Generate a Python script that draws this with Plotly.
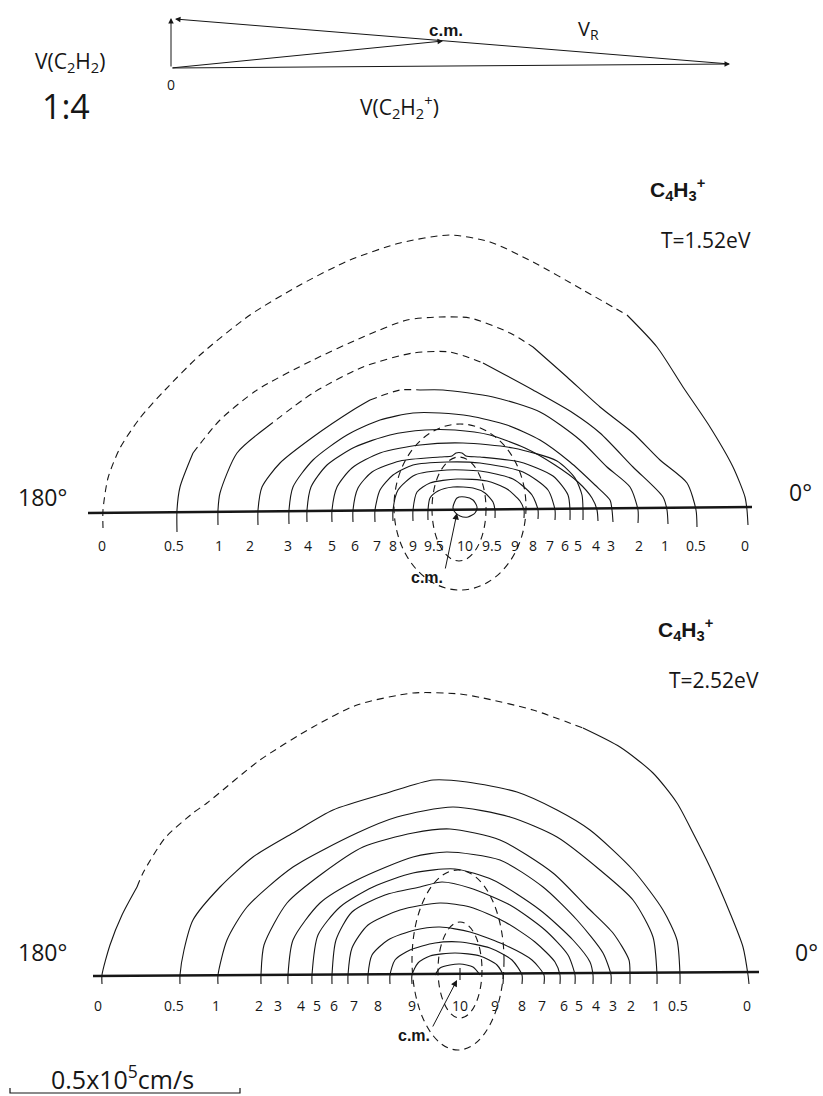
import plotly.graph_objects as go

# ------------------------------------------------------------------
# Newton diagram: lab-frame velocity vectors (page pixel plane)
# ------------------------------------------------------------------
newton_origin = [171, 68]
v_neutral_tip = [171, 18]      # V(C2H2)
v_ion_tip = [730, 64]          # V(C2H2+)
v_cm_tip = [443, 41]           # centre-of-mass velocity

# ------------------------------------------------------------------
# Contour maps in the velocity plane, relative to the c.m.
# (u along the relative velocity, v perpendicular; same scale as page)
# ------------------------------------------------------------------
top_levels = ["0", "0.5", "1", "2", "3", "4", "5", "6", "7", "8", "9", "9.5"]
top_contours = {
    "0": [(-357, -18), (-357, 0), (-352, 32), (-340, 62), (-320, 92), (-295, 120), (-260, 155),
          (-210, 195), (-160, 225), (-110, 250), (-60, 267), (-10, 275), (30, 268), (73, 248),
          (123, 220), (167, 195), (197, 163), (223, 123), (250, 83), (273, 43), (285, 13),
          (287, 0), (288, -15)],
    "0.5": [(-283, -22), (-283, 0), (-280, 23), (-267, 57), (-240, 90), (-203, 120), (-147, 150),
            (-97, 173), (-53, 190), (-20, 193), (10, 192), (50, 177), (73, 163), (107, 133),
            (140, 103), (173, 77), (200, 50), (227, 27), (236, 0), (237, -17)],
    "1": [(-242, -15), (-242, 0), (-240, 17), (-223, 57), (-193, 83), (-147, 117), (-97, 143),
          (-47, 157), (-10, 158), (23, 147), (73, 120), (113, 97), (140, 77), (173, 43),
          (203, 13), (207, 0), (208, -14)],
    "2": [(-202, -15), (-202, 0), (-198, 23), (-180, 47), (-147, 73), (-107, 100), (-90, 110),
          (-60, 120), (-40, 120), (-17, 120), (33, 113), (80, 98), (120, 70), (147, 43),
          (170, 23), (178, 0), (178, -13)],
    "3": [(-171, -14), (-171, 0), (-167, 23), (-147, 50), (-113, 75), (-80, 90), (-47, 97),
          (-20, 97), (10, 94), (47, 85), (80, 70), (110, 48), (135, 25), (150, 10), (152, 0),
          (153, -12)],
    "4": [(-153, -12), (-153, 0), (-149, 23), (-133, 45), (-105, 63), (-70, 75), (-35, 80),
          (-5, 80), (30, 75), (65, 62), (95, 45), (118, 28), (132, 12), (137, 0), (138, -11)],
    "5": [(-128, -12), (-128, 0), (-123, 23), (-108, 42), (-80, 57), (-40, 65), (3, 67),
          (53, 62), (97, 49), (115, 32), (122, 15), (123, 0), (123, -10)],
    "6": [(-107, -12), (-107, 0), (-102, 22), (-88, 38), (-60, 49), (-20, 53), (-8, 54),
          (-4, 57), (2, 57), (6, 54), (20, 53), (60, 48), (93, 34), (108, 15), (110, 0),
          (110, -10)],
    "7": [(-85, -12), (-85, 0), (-80, 20), (-67, 35), (-47, 45), (-13, 48), (20, 47), (63, 38),
          (88, 20), (95, 0), (95, -10)],
    "8": [(-67, -11), (-67, 0), (-62, 20), (-45, 35), (-13, 40), (20, 39), (53, 31), (72, 15),
          (78, 0), (78, -9)],
    "9": [(-47, -11), (-47, 0), (-43, 18), (-30, 27), (-3, 31), (27, 29), (47, 21), (60, 9),
          (64, 0), (64, -8)],
    "9.5": [(-32, -10), (-32, 0), (-30, 12), (-22, 19), (-7, 23), (13, 22), (25, 17), (33, 8),
            (35, 0), (35, -8)],
}
top_dashed = {"0": (0, 15), "0.5": (3, 12), "1": (4, 9), "2": (6, 8)}
top_peak_loop = [(-7, 3), (-3, 12), (5, 13), (13, 10), (17, 3), (15, -3), (8, -7), (0, -6),
                 (-6, -1), (-7, 3)]          # level 10, closed around the c.m.
top_ellipses = [(0, 3, 66, 83), (-1, 1, 27, 52)]   # centre u, centre v, semi-axes
top_tick_text = ["0", "0.5", "1", "2", "3", "4", "5", "6", "7", "8", "9", "9.5", "10",
                 "9.5", "9", "8", "7", "6", "5", "4", "3", "2", "1", "0.5", "0"]
top_tick_u = [-358, -286, -241, -210, -172, -152, -128, -105, -83, -67, -47, -26, 5,
              32, 55, 73, 90, 105, 118, 136, 151, 179, 205, 236, 285]
top_axis = [(-372, -3), (292, 3)]
top_cm_arrow = [(-15, -60), (-3, -3)]

bot_levels = ["0", "0.5", "1", "2", "3", "4", "5", "6", "7", "8", "9", "10"]
bot_contours = {
    "0": [(-356, -9), (-356, 0), (-348, 30), (-336, 60), (-321, 88), (-315, 102), (-293, 137),
          (-265, 162), (-251, 172), (-198, 215), (-145, 248), (-101, 270), (-45, 282), (2, 281),
          (25, 277), (75, 265), (125, 247), (162, 228), (195, 202), (219, 172), (235, 142),
          (252, 108), (272, 62), (285, 28), (290, 0), (291, -9)],
    "0.5": [(-278, -9), (-278, 0), (-274, 25), (-265, 55), (-238, 88), (-205, 118), (-165, 142),
            (-125, 165), (-71, 182), (-25, 195), (9, 193), (59, 183), (99, 165), (132, 145),
            (175, 105), (205, 65), (219, 35), (222, 0), (222, -9)],
    "1": [(-240, -9), (-240, 0), (-231, 35), (-211, 68), (-165, 108), (-101, 142), (-61, 158),
          (-5, 168), (52, 158), (99, 138), (142, 105), (175, 75), (195, 38), (199, 0), (199, -9)],
    "2": [(-197, -9), (-197, 0), (-194, 30), (-171, 72), (-135, 102), (-95, 128), (-45, 142),
          (-8, 146), (42, 135), (95, 102), (129, 68), (155, 42), (171, 15), (172, 0), (172, -9)],
    "3": [(-170, -9), (-170, 0), (-165, 35), (-138, 72), (-101, 95), (-45, 118), (-11, 123),
          (42, 115), (85, 88), (119, 55), (145, 22), (153, 0), (153, -9)],
    "4": [(-146, -9), (-146, 0), (-140, 40), (-118, 68), (-85, 88), (-45, 102), (-3, 106),
          (35, 95), (82, 65), (115, 35), (132, 13), (135, 0), (135, -9)],
    "5": [(-126, -9), (-126, 0), (-122, 35), (-106, 63), (-73, 80), (-38, 88), (-16, 93),
          (12, 87), (52, 70), (87, 45), (110, 20), (117, 0), (117, -9)],
    "6": [(-110, -9), (-110, 0), (-106, 27), (-90, 50), (-58, 65), (-18, 72), (12, 68),
          (47, 53), (77, 33), (97, 13), (102, 0), (102, -9)],
    "7": [(-90, -9), (-90, 0), (-86, 20), (-70, 35), (-43, 45), (-18, 48), (12, 43), (47, 30),
          (74, 15), (86, 0), (86, -9)],
    "8": [(-68, -9), (-68, 0), (-63, 15), (-48, 25), (-23, 32), (2, 33), (32, 27), (54, 15),
          (64, 0), (64, -9)],
    "9": [(-46, -9), (-46, 0), (-40, 12), (-28, 19), (-3, 22), (22, 19), (39, 10), (45, 0),
          (45, -9)],
    "10": [(-23, 0), (-18, 7), (-8, 10), (2, 11), (15, 8), (22, 0)],
}
bot_dashed = {"0": (4, 16)}
bot_ellipses = [(0, 15, 46, 90), (2, 5, 22, 48)]
bot_tick_text = ["0", "0.5", "1", "2", "3", "4", "5", "6", "7", "8", "9", "10",
                 "9", "8", "7", "6", "5", "4", "3", "2", "1", "0.5", "0"]
bot_tick_u = [-360, -284, -242, -199, -180, -157, -141, -124, -104, -80, -46, 2,
              37, 64, 84, 106, 121, 138, 155, 173, 198, 220, 289]
bot_axis = [(-365, -1), (301, 3)]
bot_cm_arrow = [(-26, -53), (-1, -5)]
bot_cm_tick = [(2, 7), (2, -5)]

# page placement of the two velocity planes (c.m. on the axis line)
TOP_ORIGIN = (460, 510)
BOT_ORIGIN = (458, 975)

INK = "#161616"
FONT = "'Open Sans', 'DejaVu Sans', sans-serif"
BOLD = "'Liberation Sans', Arial, sans-serif"
DASH = "7px,5px"

fig = go.Figure()


def to_page(origin, pts):
    return ([origin[0] + u for u, v in pts], [origin[1] - v for u, v in pts])


def add_path(pts, origin, dash=None, width=1.1, shape="spline"):
    xs, ys = to_page(origin, pts)
    fig.add_trace(go.Scatter(
        x=xs, y=ys, mode="lines", hoverinfo="skip", showlegend=False,
        line=dict(color=INK, width=width, dash=dash, shape=shape, smoothing=0.7)))


def add_contour(pts, origin, dashed_span=None):
    if dashed_span is None:
        add_path(pts, origin)
        return
    a, b = dashed_span
    if a > 0:
        add_path(pts[:a + 1], origin)
    add_path(pts[a:b + 1], origin, dash=DASH)
    if b < len(pts) - 1:
        add_path(pts[b:], origin)


def add_ellipse(origin, cu, cv, ru, rv):
    x, y = origin[0] + cu, origin[1] - cv
    fig.add_shape(type="circle", xref="x", yref="y", x0=x - ru, x1=x + ru,
                  y0=y - rv, y1=y + rv, line=dict(color=INK, width=1.1, dash=DASH))


def text(x, y, s, size, font=FONT, color=INK):
    fig.add_annotation(x=x, y=y, xref="x", yref="y", text=s, showarrow=False,
                       font=dict(family=font, size=size, color=color),
                       xanchor="center", yanchor="middle")


def arrow(tail, head, head_style=2, size=1.0, width=1.0):
    fig.add_annotation(x=head[0], y=head[1], ax=tail[0], ay=tail[1], xref="x", yref="y",
                       axref="x", ayref="y", text="", showarrow=True, arrowhead=head_style,
                       arrowsize=size, arrowwidth=width, arrowcolor=INK, standoff=0,
                       startstandoff=0)


# ---- Newton diagram ----
arrow(newton_origin, v_neutral_tip, size=1.1)
arrow(newton_origin, v_ion_tip, size=1.1)
arrow(v_ion_tip, [v_neutral_tip[0] + 4, v_neutral_tip[1] + 1], size=1.1)
arrow(newton_origin, v_cm_tip, size=1.1)
text(70, 62, "V(C<sub>2</sub>H<sub>2</sub>)", 21)
text(171, 84, "0", 14)
text(66, 106, "1:4", 34)
text(399, 106, "V(C<sub>2</sub>H<sub>2</sub><sup>+</sup>)", 21)
text(446, 30, "<b>c.m.</b>", 17, font=BOLD)
text(588, 29, "V<sub>R</sub>", 20)

# ---- contour panels ----
panels = [
    (TOP_ORIGIN, top_levels, top_contours, top_dashed, top_ellipses, top_tick_text,
     top_tick_u, top_axis, top_cm_arrow, 545),
    (BOT_ORIGIN, bot_levels, bot_contours, bot_dashed, bot_ellipses, bot_tick_text,
     bot_tick_u, bot_axis, bot_cm_arrow, 1005),
]
for (origin, levels, contours, dashed, ellipses, tick_text, tick_u, axis_pts,
     cm_arrow, label_y) in panels:
    add_path(axis_pts, origin, width=2.6, shape="linear")
    for lev in levels:
        add_contour(contours[lev], origin, dashed.get(lev))
    for cu, cv, ru, rv in ellipses:
        add_ellipse(origin, cu, cv, ru, rv)
    for s, u in zip(tick_text, tick_u):
        text(origin[0] + u, label_y, s, 14)
    (tu, tv), (hu, hv) = cm_arrow
    arrow((origin[0] + tu, origin[1] - tv), (origin[0] + hu, origin[1] - hv), size=1.3)
    text(origin[0] + tu - 18, origin[1] - tv + 7, "<b>c.m.</b>", 16, font=BOLD)

add_path(top_peak_loop, TOP_ORIGIN)
add_path(bot_cm_tick, BOT_ORIGIN, shape="linear")

# ---- panel captions ----
text(677, 189, "<b>C<sub>4</sub>H<sub>3</sub><sup>+</sup></b>", 21, font=BOLD)
text(706, 240, "T=1.52eV", 21)
text(42, 497, "180°", 23)
text(800, 492, "0°", 23)
text(685, 629, "<b>C<sub>4</sub>H<sub>3</sub><sup>+</sup></b>", 21, font=BOLD)
text(714, 680, "T=2.52eV", 21)
text(42, 952, "180°", 23)
text(806, 952, "0°", 23)

# ---- velocity scale bar ----
scale_bar = [(10, 1088), (10, 1093), (240, 1093), (240, 1088)]
fig.add_trace(go.Scatter(x=[p[0] for p in scale_bar], y=[p[1] for p in scale_bar],
                         mode="lines", hoverinfo="skip", showlegend=False,
                         line=dict(color=INK, width=1.2)))
text(122, 1077, "0.5x10<sup>5</sup>cm/s", 25)

fig.update_layout(
    width=823, height=1096, autosize=False,
    margin=dict(l=0, r=0, t=0, b=0, pad=0),
    paper_bgcolor="white", plot_bgcolor="white",
    xaxis=dict(range=[0, 823], visible=False, fixedrange=True),
    yaxis=dict(range=[1096, 0], visible=False, fixedrange=True),
)

fig.write_html("out.html")
